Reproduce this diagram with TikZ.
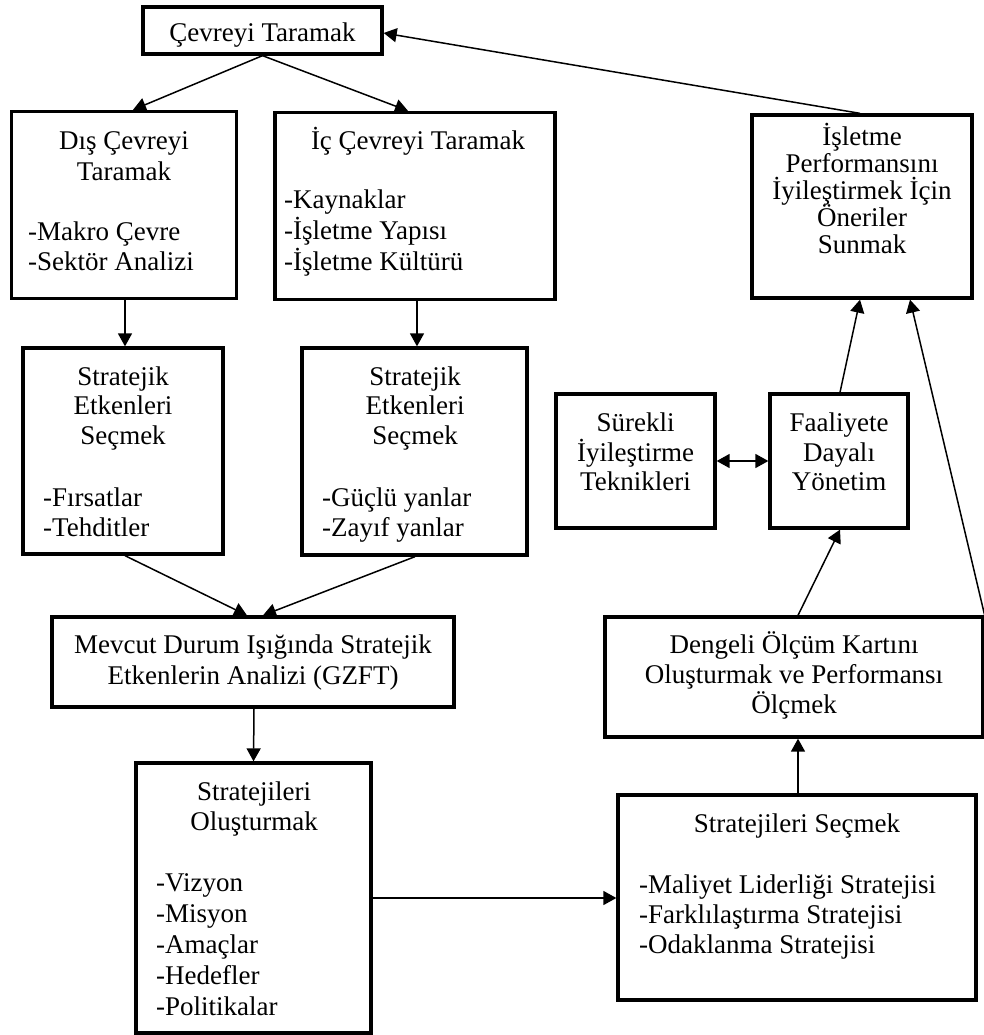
\documentclass[tikz,border=0pt]{standalone}
\usepackage{fontspec}
\setmainfont{Liberation Serif}
\usetikzlibrary{arrows.meta}
\begin{document}
\begin{tikzpicture}[x=1pt,y=-1pt,
  box/.style={draw, line width=3.3pt, inner sep=0pt},
  arr/.style={line width=1.5pt, -{Triangle[length=13pt,width=14pt]}},
  darr/.style={line width=1.5pt, {Triangle[length=13pt,width=14pt]}-{Triangle[length=13pt,width=14pt]}},
  txt/.style={inner sep=0pt, font=\fontsize{27}{30}\selectfont, anchor=base},
  item/.style={txt, anchor=base west},
]
\useasboundingbox (0,0) rectangle (984,1035);

% boxes
\node[box, minimum width=239pt, minimum height=47pt]  (top) at (262.5,30.5) {};
\node[box, minimum width=225pt, minimum height=187pt] (dis) at (124,205) {};
\node[box, minimum width=280pt, minimum height=187pt] (ic)  at (415,206) {};
\node[box, minimum width=200pt, minimum height=206pt] (sl)  at (123,451) {};
\node[box, minimum width=225pt, minimum height=207pt] (sr)  at (414.5,451.5) {};
\node[box, minimum width=402pt, minimum height=90pt]  (mev) at (253,662) {};
\node[box, minimum width=235pt, minimum height=270pt] (so)  at (253.5,898) {};
\node[box, minimum width=358pt, minimum height=205pt] (ss)  at (797,897.5) {};
\node[box, minimum width=378pt, minimum height=120pt] (den) at (794,677) {};
\node[box, minimum width=159pt, minimum height=134pt] (sur) at (635.5,461) {};
\node[box, minimum width=138pt, minimum height=134pt] (faa) at (839,461) {};
\node[box, minimum width=220pt, minimum height=183pt] (isl) at (862,206.5) {};

% texts
\node[txt] (t1) at (262.5,42) {Çevreyi Taramak};

\node[txt] (d1) at (124,150) {Dış Çevreyi};
\node[txt] (d2) at (124,180) {Taramak};
\node[item] (d3) at (28,240) {-Makro Çevre};
\node[item] (d4) at (28,270) {-Sektör Analizi};

\node[txt] (i1) at (418,150) {İç Çevreyi Taramak};
\node[item] (i2) at (284,208) {-Kaynaklar};
\node[item] (i3) at (284,239) {-İşletme Yapısı};
\node[item] (i4) at (284,270) {-İşletme Kültürü};

\node[txt] (sl1) at (123,385) {Stratejik};
\node[txt] (sl2) at (123,414) {Etkenleri};
\node[txt] (sl3) at (123,444) {Seçmek};
\node[item] (sl4) at (43,506) {-Fırsatlar};
\node[item] (sl5) at (43,536) {-Tehditler};

\node[txt] (sr1) at (415,385) {Stratejik};
\node[txt] (sr2) at (415,414) {Etkenleri};
\node[txt] (sr3) at (415,444) {Seçmek};
\node[item] (sr4) at (322,506) {-Güçlü yanlar};
\node[item] (sr5) at (322,536) {-Zayıf yanlar};

\node[txt] (m1) at (253,653) {Mevcut Durum Işığında Stratejik};
\node[txt] (m2) at (253,684) {Etkenlerin Analizi (GZFT)};

\node[txt] (o1) at (254,800) {Stratejileri};
\node[txt] (o2) at (254,830) {Oluşturmak};
\node[item] (o3) at (156,891) {-Vizyon};
\node[item] (o4) at (156,922) {-Misyon};
\node[item] (o5) at (156,953) {-Amaçlar};
\node[item] (o6) at (156,984) {-Hedefler};
\node[item] (o7) at (156,1015) {-Politikalar};

\node[txt] (s1) at (797,832) {Stratejileri Seçmek};
\node[item] (s2) at (639,893) {-Maliyet Liderliği Stratejisi};
\node[item] (s3) at (639,923) {-Farklılaştırma Stratejisi};
\node[item] (s4) at (639,953) {-Odaklanma Stratejisi};

\node[txt] (g1) at (794,653) {Dengeli Ölçüm Kartını};
\node[txt] (g2) at (794,683) {Oluşturmak ve Performansı};
\node[txt] (g3) at (794,713) {Ölçmek};

\node[txt] (u1) at (635.5,431) {Sürekli};
\node[txt] (u2) at (635.5,461) {İyileştirme};
\node[txt] (u3) at (635.5,490) {Teknikleri};

\node[txt] (f1) at (839,431) {Faaliyete};
\node[txt] (f2) at (839,461) {Dayalı};
\node[txt] (f3) at (839,490) {Yönetim};

\node[txt] (p1) at (862,146) {İşletme};
\node[txt] (p2) at (862,173) {Performansını};
\node[txt] (p3) at (862,200) {İyileştirmek İçin};
\node[txt] (p4) at (862,226) {Öneriler};
\node[txt] (p5) at (862,253) {Sunmak};

% connectors
\draw[arr] (top.south) -- ([xshift=9pt]dis.north);
\draw[arr] (top.south) -- ([xshift=-7pt]ic.north);
\draw[arr] ([xshift=-2pt]isl.north) -- ([yshift=-2.5pt]top.east);
\draw[arr] ([xshift=1pt]dis.south) -- ([xshift=2pt]sl.north);
\draw[arr] ([xshift=2pt]ic.south) -- ([xshift=2.5pt]sr.north);
\draw[arr] ([xshift=2pt]sl.south) -- ([xshift=-6pt]mev.north);
\draw[arr] ([xshift=0.5pt]sr.south) -- ([xshift=10pt]mev.north);
\draw[arr] ([xshift=1pt]mev.south) -- (so.north);
\draw[arr] (so.east) -- (so.east -| ss.west);
\draw[arr] ([xshift=1pt]ss.north) -- ([xshift=4pt]den.south);
\draw[arr] ([xshift=4pt]den.north) -- ([xshift=1pt]faa.south);
\draw[arr] ([xshift=1pt]faa.north) -- ([xshift=-2pt]isl.south);
\draw[darr] (sur.east) -- (faa.west);
\draw[arr] (den.north east) -- ([xshift=48pt]isl.south);
\end{tikzpicture}
\end{document}
